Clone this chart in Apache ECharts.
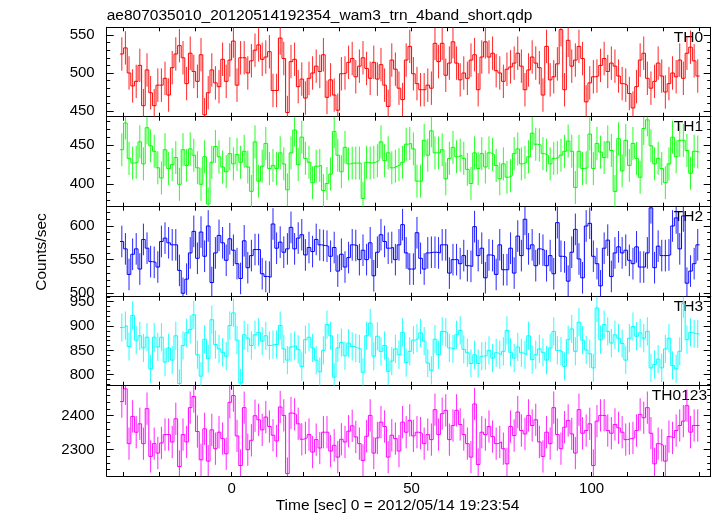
<!DOCTYPE html>
<html><head><meta charset="utf-8">
<script src="https://cdn.jsdelivr.net/npm/echarts@6/dist/echarts.min.js"></script>
<style>html,body{margin:0;padding:0;background:#fff}#c{width:717px;height:516px}</style>
</head><body><div id="c"></div>
<script>
const chartTitle = 'ae807035010_20120514192354_wam3_trn_4band_short.qdp';
const xTitle = 'Time [sec] 0 = 2012/05/14 19:23:54';
const yTitle = 'Counts/sec';
const panelNames = ['TH0', 'TH1', 'TH2', 'TH3', 'TH0123'];
const binStart = -31;   // start of first 1-s bin [sec]
const binWidth = 1;     // [sec]

const th0 = [
525,533,500,483,489,510,457,504,474,457,
484,484,493,471,507,525,536,520,486,526,
502,489,524,445,474,504,487,482,518,489,
517,542,484,520,520,500,516,530,537,518,
521,528,477,477,546,519,448,515,518,482,
492,467,493,500,509,502,524,468,491,471,
451,499,500,514,519,495,509,520,506,493,
514,492,511,484,456,517,505,480,465,517,
535,499,486,478,478,484,480,539,515,539,
497,513,541,513,491,500,493,517,524,478,
521,541,521,526,503,500,489,505,508,513,
526,509,478,504,521,513,507,471,535,491,
495,512,557,478,543,509,517,535,519,462,
487,495,496,510,519,502,513,509,496,486,
484,473,454,482,517,526,493,480,489,513,
496,475,486,500,495,517,493,526,534,516,496];

const th1 = [
444,478,433,427,428,454,426,472,449,442,
421,408,444,420,425,434,400,444,424,445,
437,421,400,435,375,428,448,435,422,416,
439,426,438,428,442,422,391,454,404,423,
452,420,424,420,440,426,393,440,469,425,
460,433,428,402,423,424,392,401,413,467,
437,416,447,426,427,427,427,382,428,427,
428,430,454,430,440,421,423,425,428,451,
452,445,404,404,456,437,468,440,440,444,
407,433,447,435,437,433,419,401,440,420,
439,422,440,438,424,407,426,409,411,439,
445,426,428,435,465,451,450,439,437,426,
433,434,437,442,455,442,396,442,420,421,
464,420,452,441,434,454,443,391,458,417,
456,424,452,433,409,471,482,449,426,433,
420,402,426,460,435,456,456,443,414,442,441];

const th2 = [
577,566,528,558,566,536,580,567,547,546,
539,577,582,575,572,572,534,500,521,560,
592,552,591,555,600,516,560,586,575,549,
581,564,544,522,578,538,556,565,565,529,
525,524,603,567,576,561,566,598,566,582,
587,557,568,562,580,572,571,570,555,568,
533,558,539,553,572,571,550,564,550,575,
526,561,587,577,567,568,550,572,602,560,
536,536,590,552,536,560,561,561,560,572,
572,530,550,550,544,556,541,540,599,556,
567,523,557,556,528,572,535,535,567,530,
585,556,610,566,572,541,566,564,541,556,
529,605,555,554,518,561,595,551,523,600,
604,555,544,511,567,579,525,560,569,560,
564,549,544,569,539,539,560,627,538,570,
556,556,557,600,612,566,615,515,533,544,572];

const th3 = [
897,901,858,922,871,880,855,877,812,877,
857,877,826,855,830,880,782,860,886,893,
923,841,797,873,833,913,862,853,846,838,
901,927,871,783,882,875,860,882,887,869,
880,860,862,862,901,853,830,857,860,852,
817,872,877,855,830,806,850,903,880,795,
855,866,839,865,858,855,853,805,880,906,
838,879,848,860,807,828,853,841,887,825,
848,871,875,886,869,824,809,873,841,889,
887,855,853,882,891,852,845,823,841,823,
838,839,850,834,845,841,848,891,846,834,
857,845,841,880,831,841,853,846,830,855,
889,850,848,817,872,894,848,908,871,851,
843,814,937,872,903,889,865,882,875,864,
830,875,899,879,886,875,889,814,821,832,
814,853,875,819,812,848,946,872,887,884,884];

const th0123 = [
2442,2480,2317,2398,2351,2376,2317,2421,2279,2317,
2289,2319,2344,2344,2322,2391,2249,2344,2322,2424,
2457,2353,2269,2361,2265,2358,2302,2351,2332,2287,
2440,2460,2340,2252,2424,2299,2327,2400,2388,2358,
2396,2368,2342,2325,2426,2401,2228,2408,2404,2376,
2330,2334,2344,2292,2329,2304,2351,2351,2295,2312,
2277,2330,2322,2354,2370,2337,2317,2267,2339,2401,
2289,2334,2381,2368,2277,2342,2332,2295,2381,2351,
2386,2340,2351,2348,2317,2344,2329,2418,2344,2406,
2416,2329,2371,2416,2374,2344,2317,2277,2435,2255,
2351,2344,2368,2338,2317,2322,2302,2257,2368,2341,
2411,2356,2346,2401,2371,2388,2322,2279,2351,2317,
2424,2344,2302,2366,2386,2346,2289,2418,2348,2356,
2376,2252,2384,2401,2401,2356,2348,2374,2364,2351,
2329,2332,2334,2356,2404,2394,2424,2348,2257,2317,
2312,2265,2338,2334,2356,2371,2384,2430,2351,2371,2371];

const errHalf = [22, 21, 23.5, 29, 48];   // typical 1-sigma half length per panel

const yMin = [442.5, 371.5, 494.9, 777.4, 2220.8];
const yMax = [560.1, 486.0, 628.7, 960.3, 2489.3];
const yMajorTicks = [[450,500,550],[400,450],[500,550,600],[800,850,900,950],[2300,2400]];
const yMinorTicks = [
  [450,460,470,480,490,500,510,520,530,540,550,560],
  [380,390,400,410,420,430,440,450,460,470,480],
  [500,510,520,530,540,550,560,570,580,590,600,610,620],
  [780,790,800,810,820,830,840,850,860,870,880,890,900,910,920,930,940,950,960],
  [2240,2260,2280,2300,2320,2340,2360,2380,2400,2420,2440,2460,2480]
];
const xMin = -34.7, xMax = 133.1;
const xTicks = [-30,-20,-10,0,10,20,30,40,50,60,70,80,90,100,110,120,130];
const xLabels = [0,50,100];

const seriesValues = [th0, th1, th2, th3, th0123];
const colors = ['#ff0000','#00ff00','#0000ff','#00ffff','#ff00ff'];

const FONT = 'Liberation Sans, Arial, Helvetica, sans-serif';
const gridLeft = 106.7, gridWidth = 604;
const gridTops = [27.3, 116.7, 206.7, 296.7, 385.7];
const gridHeights = [89.4, 90, 90, 89, 90.3];
const plain = v => String(v);

const grids = [], xAxes = [], yAxes = [], series = [], graphics = [];
for (let i = 0; i < 5; i++) {
  grids.push({left: gridLeft, top: gridTops[i], width: gridWidth, height: gridHeights[i], containLabel: false});
  const axLine = {show: true, onZero: false, lineStyle: {color: '#000', width: 1}};
  ['bottom', 'top'].forEach(pos => {
    xAxes.push({
      gridIndex: i, type: 'value', min: xMin, max: xMax, position: pos,
      axisLine: axLine,
      axisTick: {show: true, inside: true, length: 4, customValues: xTicks, lineStyle: {color: '#000'}},
      axisLabel: {show: pos === 'bottom' && i === 4, customValues: xLabels, color: '#000',
                  fontFamily: FONT, fontSize: 15, margin: 5, formatter: plain},
      splitLine: {show: false}, minorTick: {show: false}
    });
  });
  ['left', 'right'].forEach(pos => {
    yAxes.push({
      gridIndex: i, type: 'value', min: yMin[i], max: yMax[i], position: pos,
      axisLine: axLine,
      axisTick: {show: true, inside: true, length: 7, customValues: yMajorTicks[i], lineStyle: {color: '#000'}},
      axisLabel: {show: pos === 'left', customValues: yMajorTicks[i], color: '#000',
                  fontFamily: FONT, fontSize: 15, margin: 12, formatter: plain},
      splitLine: {show: false}
    });
    yAxes.push({
      gridIndex: i, type: 'value', min: yMin[i], max: yMax[i], position: pos,
      axisLine: {show: false, onZero: false},
      axisTick: {show: true, inside: true, length: 3.5, customValues: yMinorTicks[i], lineStyle: {color: '#000'}},
      axisLabel: {show: false},
      splitLine: {show: false}
    });
  });

  const vals = seriesValues[i];
  const stepData = vals.map((v, j) => [binStart + j * binWidth, v]);
  stepData.push([binStart + vals.length * binWidth, vals[vals.length - 1]]);
  series.push({
    type: 'line', xAxisIndex: i * 2, yAxisIndex: i * 4, step: 'end',
    data: stepData, showSymbol: false, symbol: 'none', clip: true,
    lineStyle: {color: colors[i], width: 1}, animation: false, silent: true, z: 3
  });
  const e = errHalf[i];
  series.push({
    type: 'custom', xAxisIndex: i * 2, yAxisIndex: i * 4, clip: true,
    data: vals.map((v, j) => [binStart + (j + 0.5) * binWidth, v - e, v + e]),
    encode: {x: 0, y: [1, 2]},
    renderItem: (params, api) => {
      const a = api.coord([api.value(0), api.value(1)]);
      const b = api.coord([api.value(0), api.value(2)]);
      return {type: 'line', shape: {x1: a[0], y1: a[1], x2: b[0], y2: b[1]},
              style: {stroke: colors[i], lineWidth: 1, opacity: 0.85}};
    },
    animation: false, silent: true, z: 2
  });

  graphics.push({
    type: 'text', x: i === 4 ? 707 : 703, y: gridTops[i] + 10.5,
    style: {text: panelNames[i], font: '15.5px ' + FONT, fill: '#000', align: 'right', verticalAlign: 'middle'}
  });
}

graphics.push({type: 'text', x: 106.7, y: 15.5,
  style: {text: chartTitle, font: '15.5px ' + FONT, fill: '#000', align: 'left', verticalAlign: 'middle'}});
graphics.push({type: 'text', x: 397.5, y: 506,
  style: {text: xTitle, font: '15.5px ' + FONT, fill: '#000', align: 'center', verticalAlign: 'middle'}});
graphics.push({type: 'text', x: 42, y: 252, rotation: Math.PI / 2,
  style: {text: yTitle, font: '15.5px ' + FONT, fill: '#000', align: 'center', verticalAlign: 'middle'}});

const chart = echarts.init(document.getElementById('c'), null, {renderer: 'canvas'});
chart.setOption({
  animation: false,
  backgroundColor: '#fff',
  grid: grids, xAxis: xAxes, yAxis: yAxes, series: series, graphic: graphics
});
</script>
</body></html>
